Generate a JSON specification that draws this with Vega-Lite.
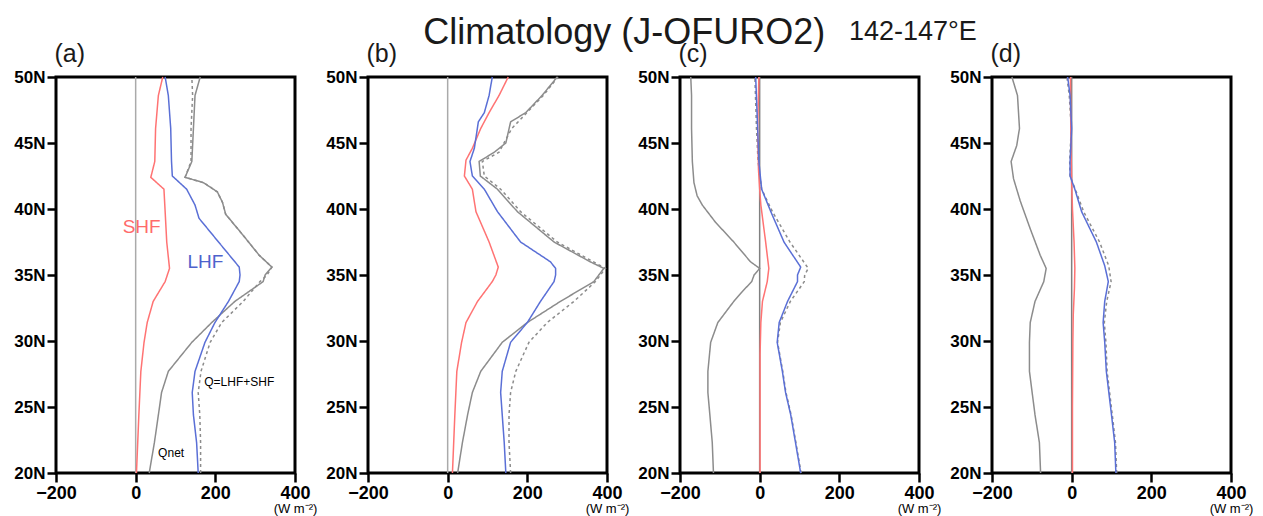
{
  "$schema": "https://vega.github.io/schema/vega-lite/v6.json",
  "background": "white",
  "padding": {"left": 12, "top": 13, "right": 5, "bottom": 2},
  "config": {
    "view": {"stroke": "black", "strokeWidth": 3},
    "axis": {"grid": false, "domain": false, "ticks": true, "tickColor": "black", "tickWidth": 2.5, "tickSize": 9, "labelFont": "Liberation Sans", "labelFontWeight": "bold", "labelColor": "black", "labelOverlap": false, "labelFlush": false},
    "text": {"font": "Liberation Sans", "color": "#1a1a1a", "align": "left", "baseline": "alphabetic"}
  },
  "datasets": {
    "a": [
      {"s":"Qnet","lat":50,"v":162},{"s":"Qnet","lat":48.6,"v":149},{"s":"Qnet","lat":46.1,"v":145},{"s":"Qnet","lat":43.6,"v":141},{"s":"Qnet","lat":42.4,"v":124},{"s":"Qnet","lat":42.0,"v":170},{"s":"Qnet","lat":41.3,"v":205},{"s":"Qnet","lat":40.5,"v":218},{"s":"Qnet","lat":39.6,"v":226},{"s":"Qnet","lat":38.0,"v":270},{"s":"Qnet","lat":36.5,"v":310},{"s":"Qnet","lat":35.6,"v":342},{"s":"Qnet","lat":35.0,"v":325},{"s":"Qnet","lat":34.5,"v":320},{"s":"Qnet","lat":33.0,"v":249},{"s":"Qnet","lat":31.4,"v":191},{"s":"Qnet","lat":29.9,"v":141},{"s":"Qnet","lat":27.7,"v":82},{"s":"Qnet","lat":26.1,"v":65},{"s":"Qnet","lat":24.4,"v":57},{"s":"Qnet","lat":22.3,"v":47},{"s":"Qnet","lat":20,"v":34},
      {"s":"Q","lat":50,"v":141},{"s":"Q","lat":48.6,"v":143},{"s":"Q","lat":46.1,"v":139},{"s":"Q","lat":43.6,"v":139},{"s":"Q","lat":42.4,"v":124},{"s":"Q","lat":42.0,"v":170},{"s":"Q","lat":41.3,"v":205},{"s":"Q","lat":40.5,"v":218},{"s":"Q","lat":39.6,"v":226},{"s":"Q","lat":38.0,"v":270},{"s":"Q","lat":36.5,"v":310},{"s":"Q","lat":35.6,"v":342},{"s":"Q","lat":35.0,"v":330},{"s":"Q","lat":34.5,"v":312},{"s":"Q","lat":33.0,"v":270},{"s":"Q","lat":31.4,"v":216},{"s":"Q","lat":29.9,"v":187},{"s":"Q","lat":27.7,"v":164},{"s":"Q","lat":26.1,"v":157},{"s":"Q","lat":24.4,"v":161},{"s":"Q","lat":22.3,"v":163},{"s":"Q","lat":20,"v":163},
      {"s":"SHF","lat":50,"v":68},{"s":"SHF","lat":48.6,"v":57},{"s":"SHF","lat":46.1,"v":50},{"s":"SHF","lat":43.6,"v":48},{"s":"SHF","lat":42.4,"v":38},{"s":"SHF","lat":41.5,"v":71},{"s":"SHF","lat":39.8,"v":74},{"s":"SHF","lat":37.5,"v":78},{"s":"SHF","lat":35.5,"v":85},{"s":"SHF","lat":34.5,"v":74},{"s":"SHF","lat":33.0,"v":44},{"s":"SHF","lat":31.4,"v":29},{"s":"SHF","lat":29.9,"v":21},{"s":"SHF","lat":27.7,"v":13},{"s":"SHF","lat":24.4,"v":8},{"s":"SHF","lat":20,"v":2},
      {"s":"LHF","lat":50,"v":74},{"s":"LHF","lat":48.6,"v":82},{"s":"LHF","lat":46.1,"v":88},{"s":"LHF","lat":43.6,"v":90},{"s":"LHF","lat":42.5,"v":92},{"s":"LHF","lat":41.5,"v":128},{"s":"LHF","lat":40.3,"v":149},{"s":"LHF","lat":39.3,"v":159},{"s":"LHF","lat":37.5,"v":208},{"s":"LHF","lat":35.6,"v":260},{"s":"LHF","lat":35.0,"v":262},{"s":"LHF","lat":34.5,"v":260},{"s":"LHF","lat":33.0,"v":233},{"s":"LHF","lat":31.4,"v":199},{"s":"LHF","lat":29.9,"v":174},{"s":"LHF","lat":27.7,"v":149},{"s":"LHF","lat":26.1,"v":142},{"s":"LHF","lat":24.4,"v":145},{"s":"LHF","lat":22.3,"v":153},{"s":"LHF","lat":20,"v":157}
    ],
    "b": [
      {"s":"Qnet","lat":50,"v":275},{"s":"Qnet","lat":48.6,"v":237},{"s":"Qnet","lat":47.3,"v":196},{"s":"Qnet","lat":46.6,"v":158},{"s":"Qnet","lat":45.0,"v":146},{"s":"Qnet","lat":44.3,"v":117},{"s":"Qnet","lat":43.6,"v":79},{"s":"Qnet","lat":42.5,"v":82},{"s":"Qnet","lat":41.5,"v":125},{"s":"Qnet","lat":39.8,"v":175},{"s":"Qnet","lat":37.5,"v":267},{"s":"Qnet","lat":36.0,"v":358},{"s":"Qnet","lat":35.5,"v":392},{"s":"Qnet","lat":34.5,"v":367},{"s":"Qnet","lat":33.0,"v":283},{"s":"Qnet","lat":31.4,"v":200},{"s":"Qnet","lat":29.9,"v":137},{"s":"Qnet","lat":27.7,"v":83},{"s":"Qnet","lat":26.1,"v":62},{"s":"Qnet","lat":24.4,"v":50},{"s":"Qnet","lat":22.3,"v":37},{"s":"Qnet","lat":20,"v":25},
      {"s":"Q","lat":50,"v":277},{"s":"Q","lat":48.6,"v":240},{"s":"Q","lat":46.1,"v":161},{"s":"Q","lat":44.3,"v":129},{"s":"Q","lat":43.6,"v":87},{"s":"Q","lat":42.5,"v":92},{"s":"Q","lat":41.5,"v":133},{"s":"Q","lat":39.8,"v":183},{"s":"Q","lat":37.5,"v":275},{"s":"Q","lat":35.5,"v":396},{"s":"Q","lat":34.5,"v":371},{"s":"Q","lat":33.0,"v":317},{"s":"Q","lat":31.4,"v":250},{"s":"Q","lat":29.9,"v":204},{"s":"Q","lat":27.7,"v":171},{"s":"Q","lat":26.1,"v":158},{"s":"Q","lat":24.4,"v":154},{"s":"Q","lat":22.3,"v":154},{"s":"Q","lat":20,"v":158},
      {"s":"SHF","lat":50,"v":152},{"s":"SHF","lat":48.6,"v":129},{"s":"SHF","lat":47.3,"v":104},{"s":"SHF","lat":46.1,"v":83},{"s":"SHF","lat":44.6,"v":62},{"s":"SHF","lat":43.7,"v":46},{"s":"SHF","lat":42.5,"v":42},{"s":"SHF","lat":41.5,"v":62},{"s":"SHF","lat":39.8,"v":71},{"s":"SHF","lat":37.5,"v":104},{"s":"SHF","lat":35.6,"v":127},{"s":"SHF","lat":35.0,"v":121},{"s":"SHF","lat":34.5,"v":112},{"s":"SHF","lat":33.0,"v":75},{"s":"SHF","lat":31.4,"v":46},{"s":"SHF","lat":29.9,"v":35},{"s":"SHF","lat":27.7,"v":23},{"s":"SHF","lat":24.4,"v":18},{"s":"SHF","lat":20,"v":12},
      {"s":"LHF","lat":50,"v":112},{"s":"LHF","lat":48.6,"v":104},{"s":"LHF","lat":47.3,"v":92},{"s":"LHF","lat":46.6,"v":77},{"s":"LHF","lat":44.6,"v":67},{"s":"LHF","lat":43.6,"v":56},{"s":"LHF","lat":42.5,"v":62},{"s":"LHF","lat":41.5,"v":92},{"s":"LHF","lat":39.8,"v":125},{"s":"LHF","lat":37.5,"v":183},{"s":"LHF","lat":36.0,"v":258},{"s":"LHF","lat":35.5,"v":271},{"s":"LHF","lat":35.0,"v":271},{"s":"LHF","lat":34.5,"v":267},{"s":"LHF","lat":33.0,"v":233},{"s":"LHF","lat":31.4,"v":200},{"s":"LHF","lat":29.9,"v":158},{"s":"LHF","lat":27.7,"v":137},{"s":"LHF","lat":26.1,"v":133},{"s":"LHF","lat":24.4,"v":137},{"s":"LHF","lat":22.3,"v":142},{"s":"LHF","lat":20,"v":146}
    ],
    "c": [
      {"s":"Qnet","lat":50,"v":-173},{"s":"Qnet","lat":48.6,"v":-171},{"s":"Qnet","lat":46.1,"v":-171},{"s":"Qnet","lat":43.6,"v":-169},{"s":"Qnet","lat":42.0,"v":-165},{"s":"Qnet","lat":41.0,"v":-157},{"s":"Qnet","lat":40.3,"v":-144},{"s":"Qnet","lat":39.0,"v":-111},{"s":"Qnet","lat":37.5,"v":-65},{"s":"Qnet","lat":36.0,"v":-23},{"s":"Qnet","lat":35.5,"v":0},{"s":"Qnet","lat":35.0,"v":-14},{"s":"Qnet","lat":34.5,"v":-20},{"s":"Qnet","lat":33.7,"v":-45},{"s":"Qnet","lat":33.0,"v":-65},{"s":"Qnet","lat":31.4,"v":-105},{"s":"Qnet","lat":29.9,"v":-123},{"s":"Qnet","lat":27.7,"v":-130},{"s":"Qnet","lat":26.1,"v":-130},{"s":"Qnet","lat":24.4,"v":-125},{"s":"Qnet","lat":22.3,"v":-119},{"s":"Qnet","lat":20,"v":-116},
      {"s":"Q","lat":50,"v":-12},{"s":"Q","lat":46.1,"v":-8},{"s":"Q","lat":43.6,"v":-4},{"s":"Q","lat":41.5,"v":5},{"s":"Q","lat":39.8,"v":32},{"s":"Q","lat":37.5,"v":76},{"s":"Q","lat":35.5,"v":122},{"s":"Q","lat":35.0,"v":113},{"s":"Q","lat":34.5,"v":112},{"s":"Q","lat":33.0,"v":77},{"s":"Q","lat":31.4,"v":52},{"s":"Q","lat":29.9,"v":45},{"s":"Q","lat":27.7,"v":58},{"s":"Q","lat":26.1,"v":66},{"s":"Q","lat":24.4,"v":79},{"s":"Q","lat":22.3,"v":91},{"s":"Q","lat":20,"v":104},
      {"s":"SHF","lat":50,"v":-2},{"s":"SHF","lat":46,"v":-5},{"s":"SHF","lat":43,"v":-3},{"s":"SHF","lat":41.5,"v":0},{"s":"SHF","lat":40.3,"v":3},{"s":"SHF","lat":37.5,"v":15},{"s":"SHF","lat":35.5,"v":23},{"s":"SHF","lat":34.5,"v":19},{"s":"SHF","lat":33.0,"v":7},{"s":"SHF","lat":31.4,"v":3},{"s":"SHF","lat":29,"v":1},{"s":"SHF","lat":20,"v":1},
      {"s":"LHF","lat":50,"v":-10},{"s":"LHF","lat":46.1,"v":-5},{"s":"LHF","lat":43.6,"v":-2},{"s":"LHF","lat":41.5,"v":5},{"s":"LHF","lat":39.8,"v":28},{"s":"LHF","lat":37.5,"v":61},{"s":"LHF","lat":35.6,"v":103},{"s":"LHF","lat":35.0,"v":95},{"s":"LHF","lat":34.5,"v":95},{"s":"LHF","lat":33.0,"v":70},{"s":"LHF","lat":31.4,"v":49},{"s":"LHF","lat":29.9,"v":44},{"s":"LHF","lat":27.7,"v":57},{"s":"LHF","lat":26.1,"v":65},{"s":"LHF","lat":24.4,"v":78},{"s":"LHF","lat":22.3,"v":90},{"s":"LHF","lat":20,"v":103}
    ],
    "d": [
      {"s":"Qnet","lat":50,"v":-150},{"s":"Qnet","lat":48.6,"v":-136},{"s":"Qnet","lat":46.1,"v":-131},{"s":"Qnet","lat":44.8,"v":-138},{"s":"Qnet","lat":43.6,"v":-152},{"s":"Qnet","lat":42.3,"v":-146},{"s":"Qnet","lat":40.6,"v":-129},{"s":"Qnet","lat":38.5,"v":-104},{"s":"Qnet","lat":36.5,"v":-79},{"s":"Qnet","lat":35.5,"v":-64},{"s":"Qnet","lat":34.5,"v":-70},{"s":"Qnet","lat":33.0,"v":-92},{"s":"Qnet","lat":31.4,"v":-104},{"s":"Qnet","lat":29.9,"v":-106},{"s":"Qnet","lat":27.7,"v":-106},{"s":"Qnet","lat":24.4,"v":-92},{"s":"Qnet","lat":22.3,"v":-81},{"s":"Qnet","lat":20,"v":-78},
      {"s":"Q","lat":50,"v":-12},{"s":"Q","lat":48.6,"v":-6},{"s":"Q","lat":46.1,"v":-1},{"s":"Q","lat":43.6,"v":-5},{"s":"Q","lat":42.5,"v":-4},{"s":"Q","lat":41.5,"v":9},{"s":"Q","lat":39.8,"v":30},{"s":"Q","lat":37.5,"v":70},{"s":"Q","lat":35.7,"v":93},{"s":"Q","lat":34.5,"v":99},{"s":"Q","lat":33.0,"v":88},{"s":"Q","lat":31.4,"v":82},{"s":"Q","lat":29.9,"v":86},{"s":"Q","lat":27.7,"v":89},{"s":"Q","lat":24.4,"v":102},{"s":"Q","lat":22.3,"v":110},{"s":"Q","lat":20,"v":113},
      {"s":"SHF","lat":50,"v":-3},{"s":"SHF","lat":45,"v":-2},{"s":"SHF","lat":42,"v":0},{"s":"SHF","lat":40,"v":2},{"s":"SHF","lat":37.5,"v":6},{"s":"SHF","lat":35.5,"v":8},{"s":"SHF","lat":34,"v":7},{"s":"SHF","lat":32,"v":4},{"s":"SHF","lat":30,"v":3},{"s":"SHF","lat":25,"v":2},{"s":"SHF","lat":20,"v":2},
      {"s":"LHF","lat":50,"v":-10},{"s":"LHF","lat":48.6,"v":-4},{"s":"LHF","lat":46.1,"v":0},{"s":"LHF","lat":43.6,"v":-4},{"s":"LHF","lat":42.5,"v":-4},{"s":"LHF","lat":41.5,"v":8},{"s":"LHF","lat":39.8,"v":25},{"s":"LHF","lat":37.5,"v":62},{"s":"LHF","lat":35.7,"v":83},{"s":"LHF","lat":34.5,"v":92},{"s":"LHF","lat":33.0,"v":83},{"s":"LHF","lat":31.4,"v":79},{"s":"LHF","lat":29.9,"v":83},{"s":"LHF","lat":27.7,"v":87},{"s":"LHF","lat":24.4,"v":100},{"s":"LHF","lat":22.3,"v":108},{"s":"LHF","lat":20,"v":111}
    ]
  },
  "spacing": 73,
  "bounds": "flush",
  "hconcat": [
    {
      "width": 239, "height": 396,
      "layer": [
        {"data": {"values": [{}]}, "mark": {"type": "rule", "color": "#aaaaaa", "strokeWidth": 1.5}, "encoding": {"x": {"datum": 0, "type": "quantitative"}}},
        {
          "data": {"name": "a"},
          "mark": {"type": "line", "strokeWidth": 1.5},
          "encoding": {
            "x": {"field": "v", "type": "quantitative", "scale": {"domain": [-200, 400], "nice": false, "zero": false}, "axis": {"values": [-200, 0, 200, 400], "format": "d", "labelFontSize": 18, "labelPadding": 2, "title": "(W m⁻²)", "titleFont": "Liberation Sans", "titleColor": "black", "titleFontSize": 13, "titleFontWeight": "normal", "titleX": 239, "titleY": 29, "titleAlign": "center", "titleBaseline": "top"}},
            "y": {"field": "lat", "type": "quantitative", "scale": {"domain": [20, 50], "nice": false, "zero": false}, "axis": {"values": [20, 25, 30, 35, 40, 45, 50], "labelExpr": "datum.value + 'N'", "labelFontSize": 17, "labelPadding": 2, "title": null}},
            "color": {"field": "s", "type": "nominal", "scale": {"domain": ["Qnet", "Q", "SHF", "LHF"], "range": ["#8c8c8c", "#8c8c8c", "#ff7373", "#5a6fd6"]}, "legend": null},
            "strokeDash": {"field": "s", "type": "nominal", "scale": {"domain": ["Qnet", "Q", "SHF", "LHF"], "range": [[1, 0], [3, 3], [1, 0], [1, 0]]}, "legend": null},
            "order": {"field": "lat", "type": "quantitative"}
          }
        },
        {"data": {"values": [{}]}, "mark": {"type": "text", "text": "(a)", "fontSize": 25}, "encoding": {"x": {"datum": -204, "type": "quantitative"}, "y": {"datum": 51.14, "type": "quantitative"}}},
        {"data": {"values": [{}]}, "mark": {"type": "text", "text": "SHF", "color": "#ff6b6b", "fontSize": 19, "align": "center", "baseline": "middle"}, "encoding": {"x": {"datum": 15, "type": "quantitative"}, "y": {"datum": 38.6, "type": "quantitative"}}},
        {"data": {"values": [{}]}, "mark": {"type": "text", "text": "LHF", "color": "#4e62cc", "fontSize": 19, "align": "center", "baseline": "middle"}, "encoding": {"x": {"datum": 175, "type": "quantitative"}, "y": {"datum": 36.0, "type": "quantitative"}}},
        {"data": {"values": [{}]}, "mark": {"type": "text", "text": "Q=LHF+SHF", "color": "black", "fontSize": 12, "align": "center", "baseline": "middle"}, "encoding": {"x": {"datum": 260, "type": "quantitative"}, "y": {"datum": 26.9, "type": "quantitative"}}},
        {"data": {"values": [{}]}, "mark": {"type": "text", "text": "Qnet", "color": "black", "fontSize": 12, "align": "center", "baseline": "middle"}, "encoding": {"x": {"datum": 89, "type": "quantitative"}, "y": {"datum": 21.5, "type": "quantitative"}}}
      ]
    },
    {
      "width": 239, "height": 396,
      "layer": [
        {"data": {"values": [{}]}, "mark": {"type": "rule", "color": "#aaaaaa", "strokeWidth": 1.5}, "encoding": {"x": {"datum": 0, "type": "quantitative"}}},
        {
          "data": {"name": "b"},
          "mark": {"type": "line", "strokeWidth": 1.5},
          "encoding": {
            "x": {"field": "v", "type": "quantitative", "scale": {"domain": [-200, 400], "nice": false, "zero": false}, "axis": {"values": [-200, 0, 200, 400], "format": "d", "labelFontSize": 18, "labelPadding": 2, "title": "(W m⁻²)", "titleFont": "Liberation Sans", "titleColor": "black", "titleFontSize": 13, "titleFontWeight": "normal", "titleX": 239, "titleY": 29, "titleAlign": "center", "titleBaseline": "top"}},
            "y": {"field": "lat", "type": "quantitative", "scale": {"domain": [20, 50], "nice": false, "zero": false}, "axis": {"values": [20, 25, 30, 35, 40, 45, 50], "labelExpr": "datum.value + 'N'", "labelFontSize": 17, "labelPadding": 2, "title": null}},
            "color": {"field": "s", "type": "nominal", "scale": {"domain": ["Qnet", "Q", "SHF", "LHF"], "range": ["#8c8c8c", "#8c8c8c", "#ff7373", "#5a6fd6"]}, "legend": null},
            "strokeDash": {"field": "s", "type": "nominal", "scale": {"domain": ["Qnet", "Q", "SHF", "LHF"], "range": [[1, 0], [3, 3], [1, 0], [1, 0]]}, "legend": null},
            "order": {"field": "lat", "type": "quantitative"}
          }
        },
        {"data": {"values": [{}]}, "mark": {"type": "text", "text": "(b)", "fontSize": 25}, "encoding": {"x": {"datum": -204, "type": "quantitative"}, "y": {"datum": 51.14, "type": "quantitative"}}}
      ]
    },
    {
      "width": 239, "height": 396,
      "layer": [
        {"data": {"values": [{}]}, "mark": {"type": "rule", "color": "#808080", "strokeWidth": 1.5}, "encoding": {"x": {"datum": 0, "type": "quantitative"}}},
        {
          "data": {"name": "c"},
          "mark": {"type": "line", "strokeWidth": 1.5},
          "encoding": {
            "x": {"field": "v", "type": "quantitative", "scale": {"domain": [-200, 400], "nice": false, "zero": false}, "axis": {"values": [-200, 0, 200, 400], "format": "d", "labelFontSize": 18, "labelPadding": 2, "title": "(W m⁻²)", "titleFont": "Liberation Sans", "titleColor": "black", "titleFontSize": 13, "titleFontWeight": "normal", "titleX": 239, "titleY": 29, "titleAlign": "center", "titleBaseline": "top"}},
            "y": {"field": "lat", "type": "quantitative", "scale": {"domain": [20, 50], "nice": false, "zero": false}, "axis": {"values": [20, 25, 30, 35, 40, 45, 50], "labelExpr": "datum.value + 'N'", "labelFontSize": 17, "labelPadding": 2, "title": null}},
            "color": {"field": "s", "type": "nominal", "scale": {"domain": ["Qnet", "Q", "SHF", "LHF"], "range": ["#8c8c8c", "#8c8c8c", "#ff7373", "#5a6fd6"]}, "legend": null},
            "strokeDash": {"field": "s", "type": "nominal", "scale": {"domain": ["Qnet", "Q", "SHF", "LHF"], "range": [[1, 0], [3, 3], [1, 0], [1, 0]]}, "legend": null},
            "order": {"field": "lat", "type": "quantitative"}
          }
        },
        {"data": {"values": [{}]}, "mark": {"type": "text", "text": "(c)", "fontSize": 25}, "encoding": {"x": {"datum": -204, "type": "quantitative"}, "y": {"datum": 51.14, "type": "quantitative"}}},
        {"data": {"values": [{}]}, "mark": {"type": "text", "text": "Climatology (J-OFURO2)", "fontSize": 36, "align": "center"}, "encoding": {"x": {"datum": -340, "type": "quantitative"}, "y": {"datum": 52.52, "type": "quantitative"}}},
        {"data": {"values": [{}]}, "mark": {"type": "text", "text": "142-147°E", "fontSize": 27}, "encoding": {"x": {"datum": 224, "type": "quantitative"}, "y": {"datum": 52.78, "type": "quantitative"}}}
      ]
    },
    {
      "width": 239, "height": 396,
      "layer": [
        {"data": {"values": [{}]}, "mark": {"type": "rule", "color": "#808080", "strokeWidth": 1.5}, "encoding": {"x": {"datum": 0, "type": "quantitative"}}},
        {
          "data": {"name": "d"},
          "mark": {"type": "line", "strokeWidth": 1.5},
          "encoding": {
            "x": {"field": "v", "type": "quantitative", "scale": {"domain": [-200, 400], "nice": false, "zero": false}, "axis": {"values": [-200, 0, 200, 400], "format": "d", "labelFontSize": 18, "labelPadding": 2, "title": "(W m⁻²)", "titleFont": "Liberation Sans", "titleColor": "black", "titleFontSize": 13, "titleFontWeight": "normal", "titleX": 239, "titleY": 29, "titleAlign": "center", "titleBaseline": "top"}},
            "y": {"field": "lat", "type": "quantitative", "scale": {"domain": [20, 50], "nice": false, "zero": false}, "axis": {"values": [20, 25, 30, 35, 40, 45, 50], "labelExpr": "datum.value + 'N'", "labelFontSize": 17, "labelPadding": 2, "title": null}},
            "color": {"field": "s", "type": "nominal", "scale": {"domain": ["Qnet", "Q", "SHF", "LHF"], "range": ["#8c8c8c", "#8c8c8c", "#ff7373", "#5a6fd6"]}, "legend": null},
            "strokeDash": {"field": "s", "type": "nominal", "scale": {"domain": ["Qnet", "Q", "SHF", "LHF"], "range": [[1, 0], [3, 3], [1, 0], [1, 0]]}, "legend": null},
            "order": {"field": "lat", "type": "quantitative"}
          }
        },
        {"data": {"values": [{}]}, "mark": {"type": "text", "text": "(d)", "fontSize": 25}, "encoding": {"x": {"datum": -204, "type": "quantitative"}, "y": {"datum": 51.14, "type": "quantitative"}}}
      ]
    }
  ]
}
